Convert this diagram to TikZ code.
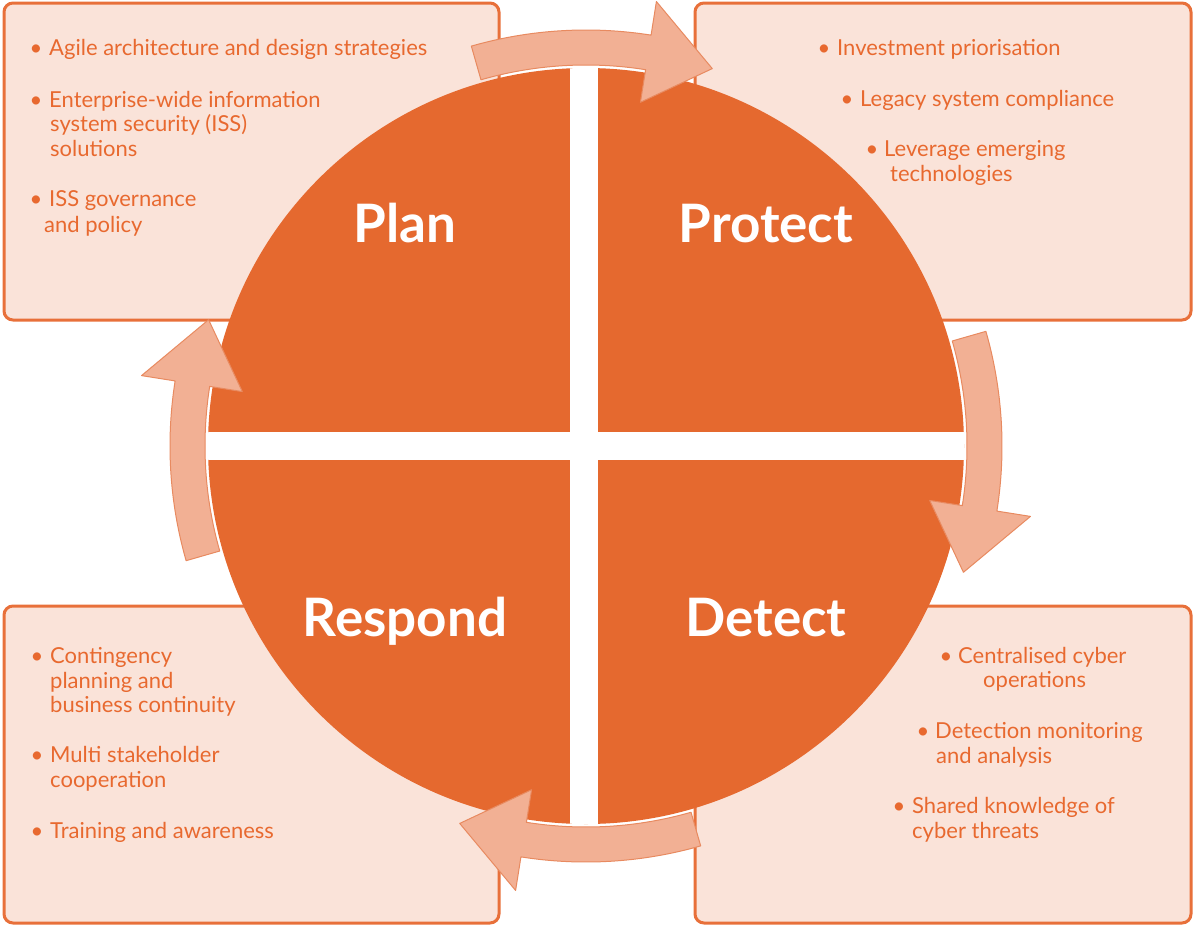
\documentclass[tikz,border=0pt]{standalone}
\usepackage{fontspec}
\setmainfont{Lato}
\definecolor{circ}{HTML}{E5692F}
\definecolor{arr}{HTML}{F2B094}
\definecolor{arredge}{HTML}{E88A60}
\definecolor{boxfill}{HTML}{FAE3D9}
\definecolor{boxedge}{HTML}{E8703A}
\definecolor{txt}{HTML}{E8692F}
\begin{document}
\begin{tikzpicture}[x=1pt,y=-1pt,
  panel/.style={draw=boxedge, fill=boxfill, line width=3pt, rounded corners=9pt},
  item/.style={anchor=base west, inner sep=0pt, text=txt, font=\fontsize{22}{25}\selectfont},
  dot/.style={anchor=base, inner sep=0pt, text=txt, font=\fontsize{22}{25}\selectfont},
  title/.style={anchor=base, inner sep=0pt, text=white, font=\fontsize{53}{60}\selectfont\bfseries},
  cyclearrow/.style={fill=arr, draw=arredge, line width=1pt, line join=round}]
\useasboundingbox (0,0) rectangle (1194,927);
% panels
\draw[panel] (4,3) rectangle (499,320);
\draw[panel] (695,3) rectangle (1191,320);
\draw[panel] (4,606) rectangle (499,923);
\draw[panel] (695,606) rectangle (1191,923);
% circle with cross
\fill[circ] (586,446) circle[radius=378];
\begin{scope}
  \clip (586,446) circle[radius=378];
  \fill[white] (570,0) rectangle (598,927);
  \fill[white] (0,432) rectangle (1194,460);
\end{scope}
% titles
\node[title] (plan) at (405,242) {Plan};
\node[title] (protect) at (766,242) {Protect};
\node[title] (respond) at (405,636) {Respond};
\node[title] (detect) at (766,636) {Detect};
% top-left text
\node[dot] (b1) at (36,55) {•};
\node[item] (t1) at (49,55) {Agile architecture and design strategies};
\node[dot] (b2) at (36,107) {•};
\node[item] (t2a) at (49,107) {Enterprise-wide information};
\node[item] (t2b) at (50,131) {system security (ISS)};
\node[item] (t2c) at (50,156) {solutions};
\node[dot] (b3) at (36,206) {•};
\node[item] (t3a) at (49,206) {ISS governance};
\node[item] (t3b) at (44,232) {and policy};
% top-right text
\node[dot] (b4) at (824,55) {•};
\node[item] (t4) at (837,55) {Investment priorisation};
\node[dot] (b5) at (847,106) {•};
\node[item] (t5) at (860,106) {Legacy system compliance};
\node[dot] (b6) at (872,156) {•};
\node[item] (t6a) at (884,156) {Leverage emerging};
\node[item] (t6b) at (890,181) {technologies};
% bottom-left text
\node[dot] (b7) at (37,663) {•};
\node[item] (t7a) at (50,663) {Contingency};
\node[item] (t7b) at (50,688) {planning and};
\node[item] (t7c) at (50,712) {business continuity};
\node[dot] (b8) at (37,762) {•};
\node[item] (t8a) at (50,762) {Multi stakeholder};
\node[item] (t8b) at (50,787) {cooperation};
\node[dot] (b9) at (37,838) {•};
\node[item] (t9) at (50,838) {Training and awareness};
% bottom-right text
\node[dot] (b10) at (946,663) {•};
\node[item] (t10a) at (958,663) {Centralised cyber};
\node[item] (t10b) at (983,687) {operations};
\node[dot] (b11) at (923,738) {•};
\node[item] (t11a) at (935,738) {Detection monitoring};
\node[item] (t11b) at (936,763) {and analysis};
\node[dot] (b12) at (899,813) {•};
\node[item] (t12a) at (912,813) {Shared knowledge of};
\node[item] (t12b) at (912,838) {cyber threats};
% cycle arrows
\begin{scope}[shift={(586,446)}]
\foreach \a in {-90,0,90,180} {
  \filldraw[cyclearrow] (\a-16:416) arc[start angle=\a-16, end angle=\a+9, radius=416]
    -- (\a+9:450) -- (\a+18.5:398) -- (\a+9:348) -- (\a+9:381)
    arc[start angle=\a+9, end angle=\a-16, radius=381] -- cycle;
}
\end{scope}
\end{tikzpicture}
\end{document}
